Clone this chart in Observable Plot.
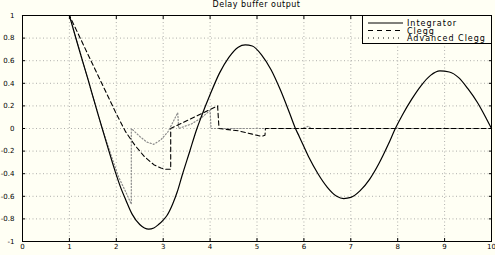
<!DOCTYPE html>
<html>
<head>
<meta charset="utf-8">
<script src="https://cdn.jsdelivr.net/npm/d3@7"></script>
<script src="https://cdn.jsdelivr.net/npm/@observablehq/plot@0.6"></script>
<style>
  html, body { margin: 0; padding: 0; background: #fffff4; }
  #wrap { position: relative; width: 495px; height: 255px; overflow: hidden; background: #fffff4; }
  #title { height: 10px; line-height: 12px; font: 8px "DejaVu Sans", sans-serif; letter-spacing: 0.5px;
           text-align: center; padding-left: 18px; white-space: nowrap; color: #000; }
  #legend { position: absolute; left: 362px; top: 15px; width: 130px; height: 29px; box-sizing: border-box;
            border: 1px solid #000; background: #fffff4; }
  #legend text { font: 8px "DejaVu Sans", sans-serif; letter-spacing: 1px; fill: #000; }
</style>
</head>
<body>
<div id="wrap">
  <div id="title">Delay buffer output</div>
  <div id="chart"></div>
  <div id="legend"></div>
</div>
<script>
// ---- data ----
const seriesNames = ["Integrator", "Clegg", "Advanced Clegg"];

const integratorX = [0,1,1.2,1.4,1.6,1.8,2.0,2.1,2.2,2.34,2.5,2.6,2.69,2.8,2.9,3.0,3.08,3.2,3.3,3.4,3.56,3.72,3.8,4.0,4.2,4.4,4.6,4.75,4.9,5.1,5.3,5.5,5.7,5.82,5.9,6.1,6.3,6.5,6.7,6.85,7.0,7.2,7.4,7.6,7.8,7.95,8.1,8.3,8.5,8.7,8.9,9.1,9.3,9.5,9.7,9.9,10];
const integratorY = [1,1,0.71,0.43,0.14,-0.14,-0.41,-0.53,-0.63,-0.76,-0.85,-0.88,-0.89,-0.88,-0.85,-0.81,-0.77,-0.67,-0.56,-0.42,-0.21,0,0.09,0.30,0.49,0.63,0.72,0.74,0.73,0.65,0.52,0.34,0.13,0,-0.07,-0.25,-0.40,-0.52,-0.60,-0.62,-0.61,-0.55,-0.45,-0.31,-0.14,0,0.12,0.26,0.38,0.47,0.51,0.50,0.45,0.35,0.23,0.08,0];

const cleggX = [0,1,2.0,2.2,2.4,2.6,2.8,2.95,3.05,3.16,3.16,4.16,4.19,4.6,4.9,5.1,5.17,5.18,10];
const cleggY = [1,1,0.13,-0.03,-0.15,-0.25,-0.32,-0.35,-0.36,-0.36,0,0.2,0.0,-0.02,-0.05,-0.07,-0.06,0,0];

const advX = [0,1,1.7,1.9,2.05,2.2,2.32,2.32,2.5,2.65,2.8,2.95,3.1,3.2,3.31,3.33,3.6,3.8,4.0,4.02,5.95,6.1,6.15,10];
const advY = [1,1,0,-0.25,-0.43,-0.56,-0.67,0,-0.07,-0.12,-0.14,-0.10,-0.03,0.05,0.14,0,0.04,0.09,0.16,0,0,0.02,0,0];

const xTicks = [0,1,2,3,4,5,6,7,8,9,10];
const yTicks = [-1,-0.8,-0.6,-0.4,-0.2,0,0.2,0.4,0.6,0.8,1];
const yTickLabels = ["-1","-0.8","-0.6","-0.4","-0.2","0","0.2","0.4","0.6","0.8","1"];

const toRows = (xs, ys) => xs.map((x, i) => ({x, y: ys[i]}));
const integrator = toRows(integratorX, integratorY);
const integratorHold = integrator.filter(d => d.x <= 1);
const integratorFree = integrator.filter(d => d.x >= 1);
const clegg = toRows(cleggX, cleggY);
const adv = toRows(advX, advY);

const gridStyle = {stroke: "#9a9a9a", strokeOpacity: 1, strokeWidth: 0.8, strokeDasharray: "1,2.5"};

const chart = Plot.plot({
  width: 495,
  height: 245,
  marginLeft: 22,
  marginRight: 4,
  marginTop: 5,
  marginBottom: 14,
  style: {background: "transparent", fontFamily: "DejaVu Sans, sans-serif", fontSize: "7px", color: "#000", overflow: "visible"},
  x: {domain: [0, 10], label: null},
  y: {domain: [-1, 1], label: null},
  marks: [
    Plot.gridX(xTicks, gridStyle),
    Plot.gridY(yTicks, gridStyle),
    Plot.line(adv, {x: "x", y: "y", stroke: "#8c8c8c", strokeWidth: 1.2, strokeDasharray: "1.2,2"}),
    Plot.line(clegg, {x: "x", y: "y", stroke: "#000", strokeWidth: 1.1, strokeDasharray: "4.5,3"}),
    Plot.line(integratorHold, {x: "x", y: "y", stroke: "#000", strokeWidth: 1.2}),
    Plot.line(integratorFree, {x: "x", y: "y", stroke: "#000", strokeWidth: 1.2, curve: "monotone-x"}),
    Plot.axisX(xTicks, {anchor: "bottom", label: null, tickSize: 0, tickPadding: 3, tickFormat: d => String(d)}),
    Plot.axisY(yTicks, {anchor: "left", label: null, tickSize: 0, tickPadding: 8, tickFormat: d => yTickLabels[yTicks.indexOf(d)]}),
    Plot.axisX(xTicks, {anchor: "bottom", label: null, tickSize: -3, tickFormat: () => ""}),
    Plot.axisX(xTicks, {anchor: "top", label: null, tickSize: -3, tickFormat: () => ""}),
    Plot.axisY(yTicks, {anchor: "left", label: null, tickSize: -3, tickFormat: () => ""}),
    Plot.axisY(yTicks, {anchor: "right", label: null, tickSize: -3, tickFormat: () => ""}),
    Plot.frame({stroke: "#000", strokeWidth: 1})
  ]
});
document.getElementById("chart").appendChild(chart);

// legend
const styles = [
  {dash: null, color: "#000"},
  {dash: "5,4", color: "#000"},
  {dash: "1,4", color: "#000"}
];
const ns = "http://www.w3.org/2000/svg";
const lsvg = document.createElementNS(ns, "svg");
lsvg.setAttribute("width", 128);
lsvg.setAttribute("height", 27);
seriesNames.forEach((name, i) => {
  const yy = 7 + i * 7.5;
  const ln = document.createElementNS(ns, "line");
  ln.setAttribute("x1", 5); ln.setAttribute("x2", 40);
  ln.setAttribute("y1", yy); ln.setAttribute("y2", yy);
  ln.setAttribute("stroke", styles[i].color);
  ln.setAttribute("stroke-width", 1);
  if (styles[i].dash) ln.setAttribute("stroke-dasharray", styles[i].dash);
  lsvg.appendChild(ln);
  const t = document.createElementNS(ns, "text");
  t.setAttribute("x", 44); t.setAttribute("y", yy + 3);
  t.textContent = name;
  lsvg.appendChild(t);
});
document.getElementById("legend").appendChild(lsvg);
</script>
</body>
</html>
